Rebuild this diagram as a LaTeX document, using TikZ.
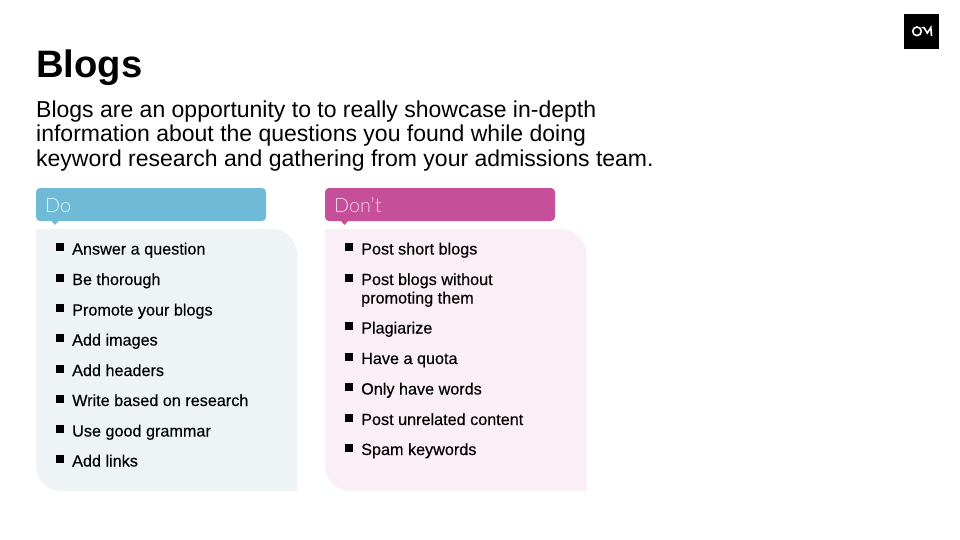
\documentclass[tikz,border=0pt]{standalone}
\usepackage{fontspec}
\setmainfont{Liberation Sans}
\newfontfamily\lightfont{Lato Light}
\newfontfamily\itemfont[FakeBold=0.3]{Liberation Sans}
\tikzset{
  px/.style={x=1pt,y=-1pt},
  titletext/.style={anchor=base west,inner sep=0pt,font=\fontsize{38.2}{38.2}\selectfont\bfseries,text=black},
  introtext/.style={anchor=base west,inner sep=0pt,font=\fontsize{23}{25}\selectfont,text=black},
  itemtext/.style={anchor=base west,inner sep=0pt,font=\fontsize{16.2}{18.5}\selectfont\itemfont,text=black,align=left},
  headtext/.style={anchor=base west,inner sep=0pt,font=\fontsize{19.8}{21}\selectfont\lightfont},
  bullet/.style={fill=black,draw=none,minimum size=8pt,inner sep=0pt,anchor=center},
}
\definecolor{doblue}{HTML}{6FBAD6}
\definecolor{dopale}{HTML}{EEF3F6}
\definecolor{dontpink}{HTML}{C54F98}
\definecolor{dontpale}{HTML}{FAEFF6}
\definecolor{donttext}{HTML}{FBD5EA}
\definecolor{dotext}{HTML}{E3F4FA}
\begin{document}
\begin{tikzpicture}[px]
\useasboundingbox (0,0) rectangle (960,540);
\fill[white] (0,0) rectangle (960,540);
% logo
\fill[black] (904,14) rectangle (939,49);
\draw[white,line width=1.6pt] (917,31.3) circle (4.3);
\draw[white,line width=1.6pt,line join=miter] (921.5,27.6) -- (924,27.6) -- (927.3,33) -- (930.8,27.6) -- (931.5,36);
% title and intro
\node[titletext] (title) at (36,78) {Blogs};
\node[introtext] (l1) at (36,117.5) {Blogs are an opportunity to to really showcase in-depth};
\node[introtext] (l2) at (36,142) {information about the questions you found while doing};
\node[introtext] (l3) at (36,166.5) {keyword research and gathering from your admissions team.};
% Do panel
\fill[dopale] (36,229) -- (272,229) arc[start angle=270,end angle=360,radius=25] -- (297,491) -- (61,491) arc[start angle=90,end angle=180,radius=25] -- cycle;
\fill[doblue,rounded corners=4pt] (36,188) rectangle (266,221);
\fill[doblue] (51,220.5) -- (55,225) -- (59,220.5) -- cycle;
\node[headtext,text=dotext] (dohead) at (45,212.5) {Do};
% Don't panel
\fill[dontpale] (325,229) -- (561.5,229) arc[start angle=270,end angle=360,radius=25] -- (586.5,491) -- (350,491) arc[start angle=90,end angle=180,radius=25] -- cycle;
\fill[dontpink,rounded corners=4pt] (325,188) rectangle (555,221);
\fill[dontpink] (340.5,220.5) -- (344.5,225) -- (348.5,220.5) -- cycle;
\node[headtext,text=donttext] (donthead) at (334,212.5) {Don’t};
% Do items
\foreach \n/\y/\t in {1/254.5/Answer a question,2/285/Be thorough,3/315.5/Promote your blogs,4/345.5/Add images,5/376/Add headers,6/406/Write based on research,7/436.5/Use good grammar,8/466.5/Add links}{
  \node[bullet] (dob\n) at (59.5,\y-7.3) {};
  \node[itemtext] (doi\n) at (72,\y) {\t};
}
% Don't items
\foreach \n/\y/\t in {1/254.5/Post short blogs,3/333.5/Plagiarize,4/364/Have a quota,5/394.5/Only have words,6/425/Post unrelated content,7/455/Spam keywords}{
  \node[bullet] (db\n) at (349,\y-7.3) {};
  \node[itemtext] (di\n) at (361,\y) {\t};
}
\node[bullet] (db2) at (349,277.7) {};
\node[itemtext] (di2) at (361,303.5) {Post blogs without\\promoting them};
\end{tikzpicture}
\end{document}
